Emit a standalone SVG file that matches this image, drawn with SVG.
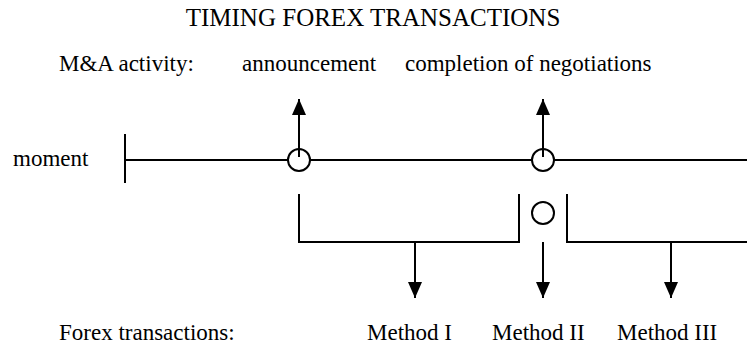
<svg xmlns="http://www.w3.org/2000/svg" width="747" height="345" viewBox="0 0 747 345">
  <style>
    text { font-family: "Liberation Serif", "Times New Roman", serif; fill: #000; }
    .title { font-size: 25px; }
    .lbl { font-size: 23px; }
    .ln { stroke: #000; stroke-width: 2; fill: none; }
    .dot { stroke: #000; stroke-width: 2; fill: #fff; }
  </style>
  <defs>
    <marker id="head" viewBox="0 0 16 14" refX="16" refY="7" markerWidth="16" markerHeight="14" markerUnits="userSpaceOnUse" orient="auto">
      <path d="M0,0 L16,7 L0,14 Z" fill="#000"/>
    </marker>
  </defs>
  <rect width="747" height="345" fill="#fff"/>

  <text class="title" x="373" y="26" text-anchor="middle">TIMING FOREX TRANSACTIONS</text>

  <g id="row-labels">
    <text class="lbl" x="59" y="71">M&amp;A activity:</text>
    <text class="lbl" x="13" y="166">moment</text>
    <text class="lbl" x="59" y="340">Forex transactions:</text>
  </g>

  <!-- time axis -->
  <g id="timeline">
    <line class="ln" x1="125" y1="134" x2="125" y2="183"/>
    <line class="ln" x1="125" y1="160" x2="747" y2="160"/>
  </g>

  <g id="announcement">
    <circle class="dot" cx="299" cy="160" r="11"/>
    <text class="lbl" x="242" y="71">announcement</text>
  </g>

  <g id="completion">
    <circle class="dot" cx="543" cy="160" r="11"/>
    <text class="lbl" x="405" y="71">completion of negotiations</text>
  </g>

  <g id="method-1">
    <path class="ln" d="M299,194 V242 H519 V194"/>
    <text class="lbl" x="367" y="340">Method I</text>
  </g>

  <g id="method-2">
    <circle class="dot" cx="543" cy="213" r="11"/>
    <text class="lbl" x="492" y="340">Method II</text>
  </g>

  <g id="method-3">
    <path class="ln" d="M567,194 V242 H747"/>
    <text class="lbl" x="617" y="340">Method III</text>
  </g>

  <g id="connectors">
    <line class="ln" x1="299" y1="157" x2="299" y2="99" marker-end="url(#head)"/>
    <line class="ln" x1="543" y1="157" x2="543" y2="99" marker-end="url(#head)"/>
    <line class="ln" x1="415" y1="242" x2="415" y2="298" marker-end="url(#head)"/>
    <line class="ln" x1="543" y1="242" x2="543" y2="298" marker-end="url(#head)"/>
    <line class="ln" x1="671" y1="242" x2="671" y2="298" marker-end="url(#head)"/>
  </g>
</svg>
